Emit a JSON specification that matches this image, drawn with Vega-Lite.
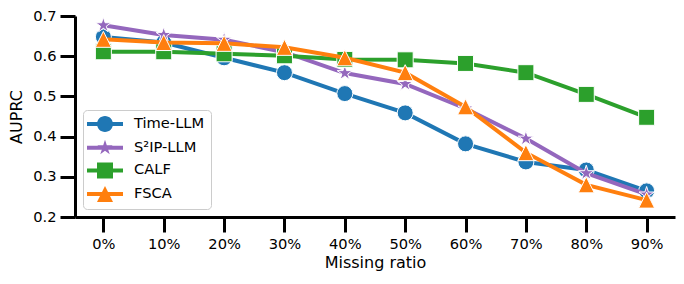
{
  "$schema": "https://vega.github.io/schema/vega-lite/v6.json",
  "width": 600,
  "height": 201,
  "autosize": "none",
  "padding": {"left": 75, "top": 16, "right": 9, "bottom": 67},
  "config": {
    "view": {"stroke": null},
    "font": "DejaVu Sans",
    "axis": {
      "domainColor": "black", "domainWidth": 3,
      "tickColor": "black", "tickWidth": 3, "tickSize": 15,
      "labelColor": "black", "labelFont": "DejaVu Sans", "labelFontSize": 14.67, "labelPadding": 4,
      "titleFont": "DejaVu Sans", "titleFontSize": 16, "titleFontWeight": "normal", "titleColor": "black",
      "grid": false
    },
    "legend": {
      "orient": "bottom-left", "offset": 8, "padding": 6, "rowPadding": 7.7,
      "symbolSize": 256, "symbolStrokeWidth": 0, "symbolOffset": 8, "labelOffset": 21, "symbolOpacity": 1,
      "labelFont": "DejaVu Sans", "labelFontSize": 14.67, "labelColor": "black", "labelLimit": 300,
      "fillColor": "rgba(255,255,255,0.8)", "strokeColor": "#cccccc", "cornerRadius": 4
    }
  },
  "data": {
    "values": [
      {"ratio": "0%", "model": "Time-LLM", "auprc": 0.648},
      {"ratio": "10%", "model": "Time-LLM", "auprc": 0.634},
      {"ratio": "20%", "model": "Time-LLM", "auprc": 0.596},
      {"ratio": "30%", "model": "Time-LLM", "auprc": 0.559},
      {"ratio": "40%", "model": "Time-LLM", "auprc": 0.507},
      {"ratio": "50%", "model": "Time-LLM", "auprc": 0.459},
      {"ratio": "60%", "model": "Time-LLM", "auprc": 0.382},
      {"ratio": "70%", "model": "Time-LLM", "auprc": 0.337},
      {"ratio": "80%", "model": "Time-LLM", "auprc": 0.317},
      {"ratio": "90%", "model": "Time-LLM", "auprc": 0.265},
      {"ratio": "0%", "model": "S²IP-LLM", "auprc": 0.677},
      {"ratio": "10%", "model": "S²IP-LLM", "auprc": 0.653},
      {"ratio": "20%", "model": "S²IP-LLM", "auprc": 0.641},
      {"ratio": "30%", "model": "S²IP-LLM", "auprc": 0.610},
      {"ratio": "40%", "model": "S²IP-LLM", "auprc": 0.558},
      {"ratio": "50%", "model": "S²IP-LLM", "auprc": 0.531},
      {"ratio": "60%", "model": "S²IP-LLM", "auprc": 0.470},
      {"ratio": "70%", "model": "S²IP-LLM", "auprc": 0.395},
      {"ratio": "80%", "model": "S²IP-LLM", "auprc": 0.309},
      {"ratio": "90%", "model": "S²IP-LLM", "auprc": 0.256},
      {"ratio": "0%", "model": "CALF", "auprc": 0.611},
      {"ratio": "10%", "model": "CALF", "auprc": 0.611},
      {"ratio": "20%", "model": "CALF", "auprc": 0.606},
      {"ratio": "30%", "model": "CALF", "auprc": 0.601},
      {"ratio": "40%", "model": "CALF", "auprc": 0.592},
      {"ratio": "50%", "model": "CALF", "auprc": 0.591},
      {"ratio": "60%", "model": "CALF", "auprc": 0.582},
      {"ratio": "70%", "model": "CALF", "auprc": 0.559},
      {"ratio": "80%", "model": "CALF", "auprc": 0.505},
      {"ratio": "90%", "model": "CALF", "auprc": 0.448},
      {"ratio": "0%", "model": "FSCA", "auprc": 0.642},
      {"ratio": "10%", "model": "FSCA", "auprc": 0.634},
      {"ratio": "20%", "model": "FSCA", "auprc": 0.632},
      {"ratio": "30%", "model": "FSCA", "auprc": 0.622},
      {"ratio": "40%", "model": "FSCA", "auprc": 0.596},
      {"ratio": "50%", "model": "FSCA", "auprc": 0.559},
      {"ratio": "60%", "model": "FSCA", "auprc": 0.474},
      {"ratio": "70%", "model": "FSCA", "auprc": 0.360},
      {"ratio": "80%", "model": "FSCA", "auprc": 0.280},
      {"ratio": "90%", "model": "FSCA", "auprc": 0.242}
    ]
  },
  "encoding": {
    "x": {
      "field": "ratio", "type": "ordinal",
      "sort": ["0%", "10%", "20%", "30%", "40%", "50%", "60%", "70%", "80%", "90%"],
      "scale": {"type": "point", "padding": 0.47},
      "axis": {"title": "Missing ratio", "labelAngle": 0, "titlePadding": 4}
    },
    "y": {
      "field": "auprc", "type": "quantitative",
      "scale": {"domain": [0.2, 0.7], "nice": false, "zero": false},
      "axis": {"title": "AUPRC", "values": [0.2, 0.3, 0.4, 0.5, 0.6, 0.7], "format": ".1f", "titlePadding": 8}
    },
    "color": {
      "field": "model", "type": "nominal",
      "scale": {"domain": ["Time-LLM", "S²IP-LLM", "CALF", "FSCA"], "range": ["#1f77b4", "#9467bd", "#2ca02c", "#ff7f0e"]},
      "legend": {"title": null}
    }
  },
  "layer": [
    {
      "mark": {"type": "point", "filled": true, "opacity": 0, "size": 1},
      "encoding": {
        "shape": {
          "field": "model", "type": "nominal",
          "scale": {"domain": ["Time-LLM", "S²IP-LLM", "CALF", "FSCA"], "range": [
            "M-2.25,-0.25H2.25V0.25H-2.25Z M1,0A1,1 0 1 1 -1,0A1,1 0 1 1 1,0Z",
            "M-2.25,-0.25H2.25V0.25H-2.25Z M0,-1L0.2245,-0.309L0.9511,-0.309L0.3633,0.118L0.5878,0.809L0,0.382L-0.5878,0.809L-0.3633,0.118L-0.9511,-0.309L-0.2245,-0.309Z",
            "M-2.25,-0.25H2.25V0.25H-2.25Z M-1,-1H1V1H-1Z",
            "M-2.25,-0.25H2.25V0.25H-2.25Z M0,-1L1,1L-1,1Z"
          ]},
          "legend": {"title": null}
        }
      }
    },
    {
      "transform": [{"filter": {"field": "model", "equal": "Time-LLM"}}],
      "layer": [
        {"mark": {"type": "line", "strokeWidth": 4}, "encoding": {}},
        {"mark": {"type": "point", "shape": "circle", "filled": true, "opacity": 1, "size": 256, "stroke": "white", "strokeWidth": 1}}
      ]
    },
    {
      "transform": [{"filter": {"field": "model", "equal": "S²IP-LLM"}}],
      "layer": [
        {"mark": {"type": "line", "strokeWidth": 4}, "encoding": {}},
        {"mark": {"type": "point", "shape": "M0,-1L0.2245,-0.309L0.9511,-0.309L0.3633,0.118L0.5878,0.809L0,0.382L-0.5878,0.809L-0.3633,0.118L-0.9511,-0.309L-0.2245,-0.309Z", "filled": true, "opacity": 1, "size": 256, "stroke": "white", "strokeWidth": 1}}
      ]
    },
    {
      "transform": [{"filter": {"field": "model", "equal": "CALF"}}],
      "layer": [
        {"mark": {"type": "line", "strokeWidth": 4}, "encoding": {}},
        {"mark": {"type": "point", "shape": "square", "filled": true, "opacity": 1, "size": 256, "stroke": "white", "strokeWidth": 1}}
      ]
    },
    {
      "transform": [{"filter": {"field": "model", "equal": "FSCA"}}],
      "layer": [
        {"mark": {"type": "line", "strokeWidth": 4}, "encoding": {}},
        {"mark": {"type": "point", "shape": "M0,-1L1,1L-1,1Z", "filled": true, "opacity": 1, "size": 256, "stroke": "white", "strokeWidth": 1}}
      ]
    }
  ]
}
